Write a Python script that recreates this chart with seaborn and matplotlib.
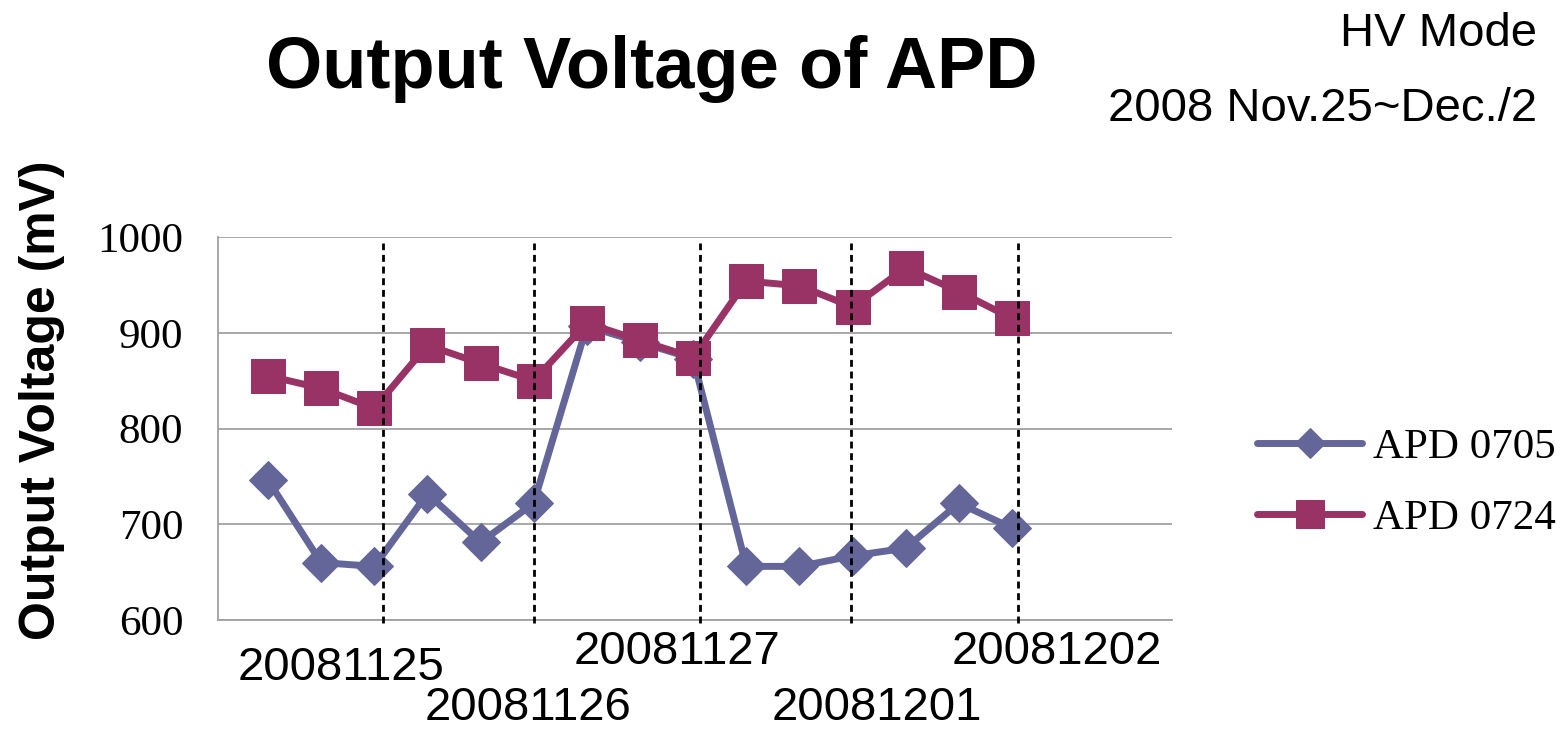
import pandas as pd
import matplotlib
matplotlib.use("Agg")
import matplotlib.pyplot as plt
import seaborn as sns

# readings taken over the week, two APD probes
readings = list(range(15))
apd_0705 = [746, 660, 656, 732, 681, 722, 907, 890, 873, 656, 656, 667, 675, 722, 696]
apd_0724 = [855, 842, 821, 887, 868, 850, 910, 892, 874, 954, 949, 927, 968, 943, 915]

# day boundaries (in reading units) and their labels
day_marks = [2.16, 5.0, 8.13, 10.97, 14.11]
day_labels = ["20081125", "20081126", "20081127", "20081201", "20081202"]
y_ticks = [600, 700, 800, 900, 1000]

# layout of the staggered day labels, figure pixels (centre x, baseline y)
label_px = [(341, 680), (528, 720), (677, 664), (877, 720), (1057, 664)]

W, H = 1560, 731
blue = "#646699"
magenta = "#993366"

sns.set_style("white")
plt.rcParams["font.family"] = ["Liberation Sans", "DejaVu Sans"]
plt.rcParams["text.color"] = "black"
plt.rcParams["ytick.color"] = "black"
plt.rcParams["xtick.color"] = "black"

fig = plt.figure(figsize=(W / 100, H / 100), dpi=100)
ax = fig.add_axes([218 / W, 1 - 620 / H, (1172 - 218) / W, (620 - 237) / H])

df_a = pd.DataFrame({"reading": readings, "voltage": apd_0705})
df_b = pd.DataFrame({"reading": readings, "voltage": apd_0724})

sns.lineplot(data=df_a, x="reading", y="voltage", ax=ax, color=blue, lw=5,
             marker="D", markersize=19, markeredgecolor=blue, label="APD 0705", zorder=3)
sns.lineplot(data=df_b, x="reading", y="voltage", ax=ax, color=magenta, lw=5,
             marker="s", markersize=24, markeredgecolor=magenta, label="APD 0724", zorder=4)

# dashed day separators
ax.vlines(day_marks, 597, 994, colors="black", linestyles=(0, (2.5, 1.7)), lw=2,
          clip_on=False, zorder=5)

ax.set_xlim(-0.94, 17.01)
ax.set_ylim(600, 1000)
ax.set_yticks(y_ticks)
ax.set_xticks([])
ax.yaxis.grid(True, color="#a0a0a0", lw=1.3)
ax.set_axisbelow(True)
ax.tick_params(axis="y", length=0, pad=25, colors="black")
for lab in ax.get_yticklabels():
    lab.set_family("Liberation Serif")
    lab.set_fontsize(31)
ax.set_xlabel("")
ax.set_ylabel("")

for side in ["top", "right"]:
    ax.spines[side].set_visible(False)
for side in ["left", "bottom"]:
    ax.spines[side].set_color("#a0a0a0")
    ax.spines[side].set_linewidth(1.3)

for (px, py), text in zip(label_px, day_labels):
    fig.text(px / W, 1 - py / H, text, ha="center", va="baseline", fontsize=34)

fig.text(652 / W, 1 - 88 / H, "Output Voltage of APD", ha="center", va="baseline",
         fontsize=52, fontweight="bold")
fig.text(1537 / W, 1 - 46 / H, "HV Mode", ha="right", va="baseline", fontsize=34)
fig.text(1537 / W, 1 - 121 / H, "2008 Nov.25~Dec./2", ha="right", va="baseline", fontsize=34)
fig.text(42 / W, 1 - 400 / H, "Output Voltage (mV)", rotation=90, ha="center", va="center",
         fontsize=36, fontweight="bold")

leg = ax.legend(loc="center left", bbox_to_anchor=(1257 / W, 1 - 483 / H),
                bbox_transform=fig.transFigure, frameon=False, borderpad=0,
                borderaxespad=0, handlelength=2.45, handletextpad=0.25,
                labelspacing=0.75, markerscale=0.82,
                prop={"family": "Liberation Serif", "size": 31})
for t in leg.get_texts():
    t.set_color("black")

fig.savefig("out.png", dpi=100)
